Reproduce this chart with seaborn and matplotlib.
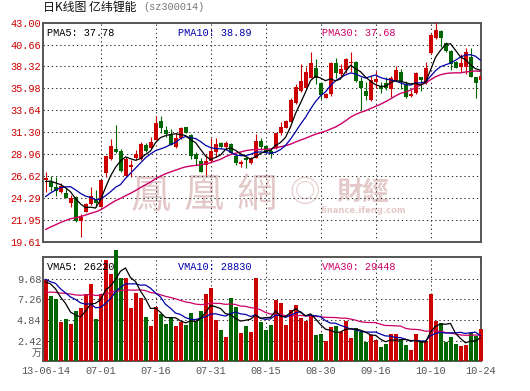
import numpy as np
import pandas as pd
import matplotlib
matplotlib.use("Agg")
import matplotlib.pyplot as plt
import seaborn as sns

sns.set_style("white")
plt.rcParams["font.family"] = ["DejaVu Sans"]

# ---------------- data ----------------
x_tick_pos = [0, 11, 22, 33, 44, 55, 66, 77, 87]
x_tick_labels = ["13-06-14", "07-01", "07-16", "07-31", "08-15", "08-30", "09-16", "10-10", "10-24"]
price_ticks = [19.61, 21.95, 24.29, 26.62, 28.96, 31.30, 33.64, 35.98, 38.32, 40.66, 43.00]
vol_ticks = [2.42, 4.84, 7.26, 9.68]

open_ = [26.2, 26.02, 25.48, 24.95, 24.84, 23.77, 24.34, 21.85, 22.81, 23.63,
         24.13, 23.35, 26.91, 28.4, 29.5, 29.33, 26.62, 27.62, 28.5, 28.4,
         29.93, 29.58, 30.5, 32.5, 31.54, 31.07, 29.76, 30.65, 31.82, 31.0,
         28.94, 28.22, 27.8, 28.22, 29.15, 30.11, 29.76, 30.0, 28.79, 27.9,
         28.58, 28.04, 28.58, 30.36, 29.83, 29.29, 29.58, 31.18, 31.78, 32.43,
         34.38, 35.7, 36.06, 37.06, 38.2, 36.52, 34.99, 35.35, 38.66, 37.48,
         37.94, 38.66, 38.84, 36.77, 35.7, 34.74, 36.7, 36.27, 36.52, 35.92,
         36.88, 37.7, 36.42, 35.2, 35.45, 37.23, 36.52, 39.73, 41.33, 42.11,
         40.8, 39.98, 38.77, 38.3, 38.3, 39.37, 37.23, 36.88]
high = [27.08, 26.66, 26.55, 25.84, 25.3, 24.59, 24.49, 22.56, 23.7, 25.48,
        25.13, 26.27, 28.76, 30.6, 32.07, 29.47, 28.69, 28.33, 29.4, 30.29,
        30.1, 30.82, 33.0, 33.07, 32.0, 31.64, 31.18, 31.89, 31.89, 31.07,
        29.22, 28.51, 28.94, 30.65, 30.72, 30.29, 30.36, 30.11, 28.94, 28.33,
        28.69, 28.69, 31.07, 30.65, 29.93, 29.5, 31.18, 32.43, 32.6, 34.92,
        36.42, 38.55, 38.3, 39.9, 39.12, 36.63, 35.45, 38.77, 39.27, 38.55,
        39.19, 39.83, 38.91, 37.23, 36.7, 37.41, 37.84, 36.7, 37.23, 37.34,
        38.41, 38.05, 36.77, 35.81, 37.7, 37.23, 38.84, 41.86, 43.04, 42.22,
        40.9, 40.08, 38.91, 39.62, 40.26, 40.26, 37.23, 40.08]
low = [24.95, 25.05, 24.49, 24.77, 24.3, 23.35, 21.74, 20.07, 22.8, 23.52,
       23.35, 23.3, 26.55, 28.33, 29.04, 27.1, 26.6, 26.55, 28.3, 28.33,
       29.2, 29.47, 30.47, 31.18, 30.82, 29.9, 29.58, 30.6, 31.18, 28.44,
       27.8, 27.0, 26.73, 28.15, 28.69, 29.58, 29.5, 28.94, 27.8, 27.62,
       27.51, 27.87, 28.51, 29.4, 29.04, 28.51, 29.5, 31.0, 31.7, 32.35,
       34.28, 35.63, 35.99, 37.06, 36.42, 34.85, 34.92, 35.2, 37.06, 37.34,
       37.59, 37.77, 36.7, 33.67, 34.74, 34.63, 35.99, 35.45, 35.8, 35.1,
       36.77, 35.92, 34.99, 35.1, 35.34, 35.7, 36.42, 39.62, 41.26, 40.44,
       39.9, 37.95, 38.13, 37.7, 37.48, 37.23, 34.92, 36.34]
close = [26.4, 25.48, 25.05, 25.59, 24.31, 24.24, 21.85, 22.21, 23.63, 24.52,
         23.77, 26.2, 28.76, 29.83, 29.15, 27.15, 28.4, 27.8, 29.0, 30.04,
         29.33, 30.29, 32.25, 31.71, 31.07, 29.93, 30.72, 31.78, 31.25, 28.79,
         28.44, 27.08, 28.22, 29.29, 30.0, 29.68, 30.11, 29.04, 27.97, 28.15,
         28.33, 28.58, 30.36, 29.76, 29.22, 28.94, 31.18, 31.89, 32.5, 34.74,
         36.17, 36.77, 37.7, 38.66, 37.06, 35.27, 35.35, 38.66, 37.59, 38.05,
         39.12, 38.84, 36.77, 36.06, 35.2, 36.88, 36.95, 35.92, 36.06, 37.13,
         37.95, 36.7, 35.1, 35.38, 37.59, 36.88, 38.13, 41.68, 42.22, 41.33,
         39.98, 38.55, 38.2, 38.66, 39.83, 37.23, 36.52, 37.34]
volume = [9.5, 7.6, 7.3, 4.6, 4.9, 4.4, 5.9, 6.2, 7.9, 9.0,
          4.95, 7.9, 11.9, 10.2, 13.0, 9.7, 9.8, 6.25, 7.95, 7.4,
          5.2, 4.15, 6.4, 5.5, 4.4, 5.1, 4.1, 4.6, 4.3, 5.6,
          4.7, 5.9, 7.9, 8.6, 4.85, 3.67, 2.85, 7.37, 6.36, 3.32,
          4.13, 3.43, 9.75, 4.6, 3.67, 4.26, 7.18, 6.79, 4.26, 6.01,
          6.6, 5.04, 4.72, 5.43, 3.09, 3.2, 2.39, 4.06, 4.14, 3.4,
          4.72, 2.74, 3.91, 3.48, 2.27, 3.09, 2.46, 1.68, 2.0, 3.16,
          3.16, 2.62, 1.92, 1.3, 3.2, 2.39, 2.39, 7.84, 4.72, 4.49,
          2.27, 2.85, 2.0, 1.8, 1.92, 3.28, 2.97, 3.79]
# closes / volumes of the 29 sessions before the window (estimated from the MA lines)
prior_close = [17.6, 17.9, 18.2, 18.0, 18.4, 18.7, 18.5, 18.9, 19.0, 19.2,
               19.45, 19.3, 19.6, 19.4, 19.8, 20.1, 19.9, 20.3, 20.25, 20.5,
               21.5, 22.0, 23.0, 23.5, 24.0, 25.2, 26.0, 26.5, 26.0]
prior_volume = [6.5, 8.2, 7.0, 5.9, 6.8, 9.1, 7.4, 6.2, 7.8, 8.5,
                6.9, 7.3, 5.8, 7.6, 8.8, 6.4, 7.1, 8.0, 6.7, 7.8,
                10.5, 9.2, 11.0, 9.6, 9.2, 8.8, 10.2, 9.4, 8.6]

# ---------------- style ----------------
RED = "#cc0000"
GREEN = "#006600"
BLUE = "#0000aa"
MAG = "#cc0066"
GRID = "#333333"
FRAME = "#555555"
MONO = "Liberation Mono"
W, H = 530, 391

def fx(p):
    return p / W

def fy(p):
    return 1 - p / H

fig = plt.figure(figsize=(W / 100, H / 100), dpi=100)
fig.patch.set_facecolor("white")
ax = fig.add_axes([fx(43), fy(241.6), fx(481) - fx(43), fy(22.7) - fy(241.6)])
axv = fig.add_axes([fx(43), fy(361.4), fx(481) - fx(43), fy(257) - fy(361.4)])

n = len(close)
idx = np.arange(n)
o = np.array(open_); c = np.array(close); hi = np.array(high); lo = np.array(low)
v = np.array(volume)

full_c = pd.Series(prior_close + close)
full_v = pd.Series(prior_volume + volume)
k = len(prior_close)
df = pd.DataFrame({
    "i": idx,
    "ma5": full_c.rolling(5).mean().values[k:],
    "ma10": full_c.rolling(10).mean().values[k:],
    "ma30": full_c.rolling(30).mean().values[k:],
    "vma5": full_v.rolling(5).mean().values[k:],
    "vma10": full_v.rolling(10).mean().values[k:],
    "vma30": full_v.rolling(30).mean().values[k:],
})

up = c >= o
cols = np.where(up, RED, GREEN)

for a in (ax, axv):
    a.set_facecolor("white")
    a.set_xlim(-0.5, 87.1)
    for s in a.spines.values():
        s.set_color(FRAME)
        s.set_linewidth(1.4)
    for xg in x_tick_pos[1:-1]:
        a.axvline(xg, color=GRID, lw=0.75, ls=(0, (1.3, 2.7)), zorder=1)

# main panel
ax.set_ylim(price_ticks[0], price_ticks[-1])
for t in price_ticks[1:-1]:
    ax.axhline(t, color=GRID, lw=0.75, ls=(0, (1.3, 2.7)), zorder=1)

# watermark
wm = "#e4c9c9"
for ch, px in zip("鳳凰網", [151, 204, 257]):
    ax.text(fx(px), fy(196), ch, transform=fig.transFigure, ha="center", va="center",
            fontsize=29, color=wm, family=["Noto Sans CJK TC"], zorder=0.5)
ax.text(fx(305), fy(194), "◎", transform=fig.transFigure, ha="center", va="center",
        fontsize=22, color=wm, family=["Noto Sans CJK TC", "DejaVu Sans"], zorder=0.5)
ax.text(fx(363), fy(192), "財經", transform=fig.transFigure, ha="center", va="center",
        fontsize=19, color=wm, family=["Noto Sans CJK TC"], zorder=0.5, weight="bold")
ax.text(fx(364), fy(211), "finance.ifeng.com", transform=fig.transFigure, ha="center",
        va="center", fontsize=6, color=wm, zorder=0.5, weight="bold")

ax.vlines(idx, lo, hi, colors=cols, lw=0.8, zorder=3)
body_h = np.maximum(np.abs(c - o), 0.07)
ax.bar(idx, body_h, bottom=np.minimum(o, c), width=0.8, color=cols, lw=0, zorder=4)

sns.lineplot(data=df, x="i", y="ma30", ax=ax, color=MAG, lw=1.0, zorder=5)
sns.lineplot(data=df, x="i", y="ma10", ax=ax, color=BLUE, lw=0.9, zorder=6)
sns.lineplot(data=df, x="i", y="ma5", ax=ax, color="black", lw=0.9, zorder=7)

ax.set_yticks(price_ticks)
ax.set_yticklabels([f"{t:.2f}" for t in price_ticks], family=MONO, fontsize=7.4, color=RED)
ax.set_xticks([])
ax.set_xlabel(""); ax.set_ylabel("")
ax.tick_params(axis="y", length=0, pad=1.2)

# volume panel
axv.set_ylim(0, 12.2)
for t in vol_ticks:
    axv.axhline(t, color=GRID, lw=0.75, ls=(0, (1.3, 2.7)), zorder=1)
axv.bar(idx, v, width=0.8, color=cols, lw=0, zorder=3, clip_on=False)
sns.lineplot(data=df, x="i", y="vma30", ax=axv, color=MAG, lw=0.9, zorder=5)
sns.lineplot(data=df, x="i", y="vma10", ax=axv, color=BLUE, lw=0.9, zorder=6)
sns.lineplot(data=df, x="i", y="vma5", ax=axv, color="black", lw=0.9, zorder=7)
axv.set_yticks(vol_ticks)
axv.set_yticklabels([f"{t:.2f}" for t in vol_ticks], family=MONO, fontsize=7.4, color="#555555")
axv.set_xticks(x_tick_pos)
axv.set_xticklabels(x_tick_labels, family=MONO, fontsize=7.4, color="#555555")
axv.set_xlabel(""); axv.set_ylabel("")
axv.tick_params(axis="both", length=0, pad=1.2)
axv.tick_params(axis="x", pad=3)

# legend texts
def label(px, py, s, color):
    fig.text(fx(px), fy(py), s, ha="left", va="center", family=MONO, fontsize=7.4,
             color=color, zorder=10)

label(47, 32.5, "PMA5: 37.78", "black")
label(177.5, 32.5, "PMA10: 38.89", BLUE)
label(322, 32.5, "PMA30: 37.68", MAG)
label(47, 267, "VMA5: 26220", "black")
label(177.5, 267, "VMA10: 28830", BLUE)
label(322, 267, "VMA30: 29448", MAG)

fig.text(fx(37), fy(353), "万", ha="center", va="center", fontsize=7,
         color="#555555", family=["Noto Sans CJK SC"])

# title
fig.text(fx(43), fy(7), "日K线图 亿纬锂能", ha="left", va="center", fontsize=8.6,
         color="#111111", family=["Noto Sans CJK SC", "DejaVu Sans"])
fig.text(fx(143), fy(7), "(sz300014)", ha="left", va="center", fontsize=7.4,
         color="#777777", family=MONO)

fig.savefig("out.png", dpi=100, facecolor="white")
